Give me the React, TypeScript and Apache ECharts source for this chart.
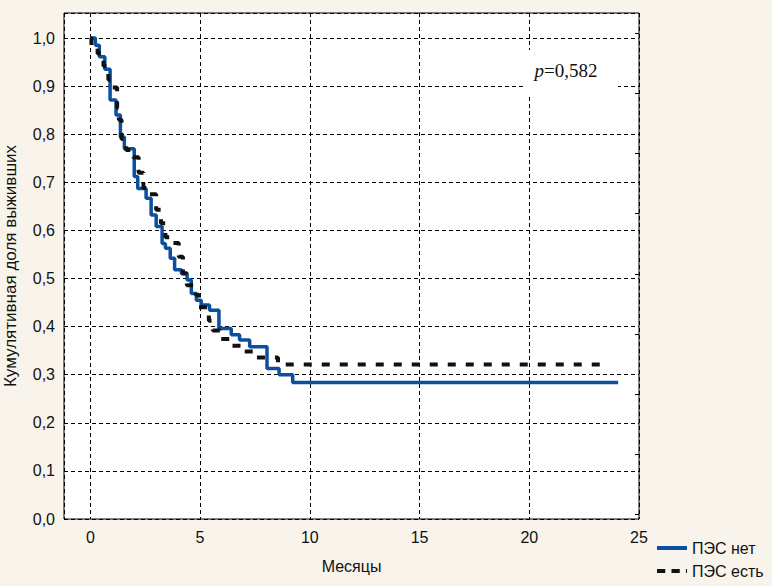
import React, { useEffect, useRef } from "react";
import * as echarts from "echarts";

// Kaplan–Meier step points (time in months, cumulative survival)
const BLUE_T = [0, 0.23, 0.41, 0.66, 0.9, 1.17, 1.37, 1.55, 2.0, 2.16, 2.54, 2.77, 3.0, 3.27, 3.42, 3.64, 3.84, 4.15, 4.41, 4.6, 4.83, 5.05, 5.43, 5.86, 6.42, 6.8, 7.26, 8.05, 8.6, 9.22, 24.05];
const BLUE_S = [1.0, 0.985, 0.961, 0.935, 0.871, 0.84, 0.794, 0.77, 0.712, 0.687, 0.667, 0.632, 0.608, 0.573, 0.563, 0.542, 0.518, 0.51, 0.497, 0.469, 0.455, 0.445, 0.434, 0.396, 0.383, 0.372, 0.358, 0.313, 0.3, 0.284, 0.284];

const BLACK_T = [0, 0.05, 0.33, 0.6, 0.82, 0.95, 1.22, 1.3, 1.42, 1.63, 1.95, 2.2, 2.42, 2.55, 3.0, 3.22, 3.42, 3.6, 4.03, 4.22, 4.4, 4.8, 4.95, 5.4, 5.58, 5.9, 6.4, 7.0, 7.55, 8.55, 23.6];
const BLACK_S = [1.0, 0.985, 0.968, 0.942, 0.913, 0.897, 0.855, 0.83, 0.79, 0.767, 0.752, 0.72, 0.688, 0.675, 0.643, 0.615, 0.586, 0.574, 0.545, 0.511, 0.486, 0.466, 0.44, 0.412, 0.392, 0.374, 0.36, 0.348, 0.336, 0.321, 0.321];

const SERIES_NAMES = ["ПЭС нет", "ПЭС есть"];
const X_LABELS = [0, 5, 10, 15, 20, 25];
const RIGHT_TICKS = [0.0098, 0.1348, 0.2598, 0.3848, 0.5098, 0.6348, 0.7598, 0.8848, 1.0098];
const X_NAME = "Месяцы";
const Y_NAME = "Кумулятивная доля выживших";
const P_TEXT = "=0,582";

const FONT = "'Liberation Sans', Arial, sans-serif";
const BLUE = "#0b4f9e";
const BLACK = "#111111";

export default function App() {
  const ref = useRef<HTMLDivElement>(null);

  useEffect(() => {
    document.body.style.margin = "0";
    if (!ref.current) return;
    const chart = echarts.init(ref.current, undefined, { renderer: "svg" });
    const blue = BLUE_T.map((t, i) => [t, BLUE_S[i]]);
    const black = BLACK_T.map((t, i) => [t, BLACK_S[i]]);
    chart.setOption({
      animation: false,
      backgroundColor: "#f8f4ec",
      grid: {
        left: 64,
        top: 13,
        width: 575,
        height: 506,
        containLabel: false,
        outerBoundsMode: "none",
        show: true,
        backgroundColor: "#ffffff",
        borderColor: "#000000",
        borderWidth: 1,
      },
      legend: {
        data: [
          { name: SERIES_NAMES[0], icon: "path://M0,0h30v4h-30z", itemStyle: { color: BLUE } },
          { name: SERIES_NAMES[1], icon: "path://M1,0h8v4h-8z M15,0h8v4h-8z M29,0h1v4h-1z", itemStyle: { color: BLACK } },
        ],
        orient: "vertical",
        left: 652,
        top: 535,
        itemWidth: 30,
        itemHeight: 14,
        itemGap: 7,
        textStyle: { fontSize: 16, fontFamily: FONT, color: "#111" },
      },
      xAxis: {
        type: "value",
        min: -1.2,
        max: 25,
        axisLine: { show: false },
        axisTick: { show: false },
        axisLabel: {
          customValues: X_LABELS,
          margin: 10,
          fontSize: 16,
          fontFamily: FONT,
          color: "#111",
          formatter: (v: number) => (v < 0 ? "" : String(v)),
        },
        splitLine: {
          show: true,
          lineStyle: { color: "#000", width: 1, type: [4, 3] },
        },
        name: X_NAME,
        nameLocation: "middle",
        nameGap: 39,
        nameTextStyle: { fontSize: 16, fontFamily: FONT, color: "#111" },
      },
      yAxis: [
        {
          type: "value",
          min: 0,
          max: 1.052,
          interval: 0.1,
          axisLine: { show: false },
          axisTick: { show: false },
          axisLabel: {
            margin: 9,
            fontSize: 16,
            fontFamily: FONT,
            color: "#111",
            formatter: (v: number) => (v > 1.0001 ? "" : v.toFixed(1).replace(".", ",")),
          },
          splitLine: {
            show: true,
            lineStyle: { color: "#000", width: 1, type: [4, 3] },
          },
          name: Y_NAME,
          nameLocation: "middle",
          nameGap: 45,
          nameTextStyle: { fontSize: 17, fontFamily: FONT, color: "#111" },
        },
        {
          type: "value",
          position: "right",
          min: 0,
          max: 1.052,
          axisLine: { show: false },
          axisLabel: { show: false },
          splitLine: { show: false },
          axisTick: {
            show: true,
            inside: true,
            length: 4,
            customValues: RIGHT_TICKS,
            lineStyle: { color: "#000", width: 1 },
          },
        },
      ],
      series: [
        {
          name: SERIES_NAMES[0],
          type: "line",
          step: "end",
          data: blue,
          symbol: "none",
          lineStyle: { color: BLUE, width: 3.5 },
          itemStyle: { color: BLUE },
          z: 3,
        },
        {
          name: SERIES_NAMES[1],
          type: "line",
          step: "end",
          data: black,
          symbol: "none",
          lineStyle: { color: BLACK, width: 4, type: [8, 10] },
          itemStyle: { color: BLACK },
          z: 4,
        },
      ],
      graphic: [
        {
          type: "rect",
          z: 100,
          shape: { x: 525, y: 50, width: 93, height: 47 },
          style: { fill: "#ffffff" },
        },
        {
          type: "text",
          z: 101,
          x: 566,
          y: 70,
          style: {
            text: "{i|p}" + P_TEXT,
            align: "center",
            verticalAlign: "middle",
            font: "19px 'Liberation Serif', 'Times New Roman', serif",
            fill: "#111",
            rich: {
              i: { fontStyle: "italic", fontSize: 19, fontFamily: "'Liberation Serif', 'Times New Roman', serif", fill: "#111" },
            },
          },
        },
      ],
    });
    return () => chart.dispose();
  }, []);

  return (
    <div
      ref={ref}
      style={{ position: "absolute", left: 0, top: 0, width: 772, height: 586, background: "#f8f4ec" }}
    />
  );
}
